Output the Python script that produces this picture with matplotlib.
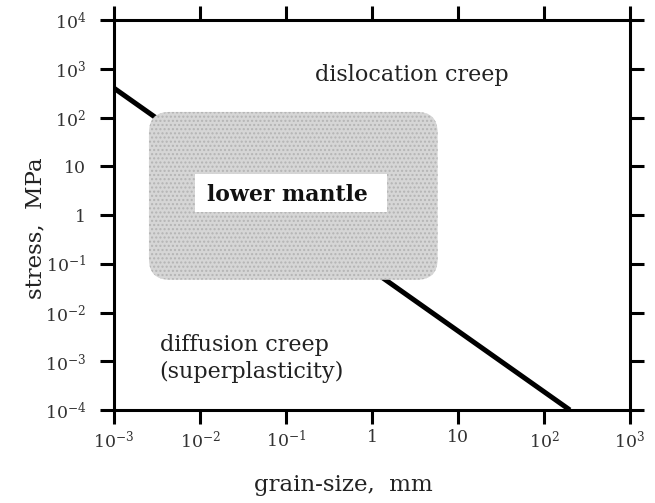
import numpy as np
import matplotlib
matplotlib.use('Agg')
import matplotlib.pyplot as plt
from matplotlib.patches import FancyBboxPatch

plt.rcParams['font.family'] = 'DejaVu Serif'
plt.rcParams['mathtext.fontset'] = 'dejavuserif'

# boundary between diffusion and dislocation creep
boundary_grain = [1e-3, 200]      # mm
boundary_stress = [400, 1e-4]     # MPa

# lower mantle field (grain-size range, stress range)
mantle_grain = [0.00255, 5.8]
mantle_stress = [0.047, 130]
# white label patch inside the field
patch_grain = [0.0087, 1.5]
patch_stress = [1.15, 6.8]

x_ticks = [1e-3, 1e-2, 1e-1, 1, 10, 1e2, 1e3]
x_labels = [r'$10^{-3}$', r'$10^{-2}$', r'$10^{-1}$', '1', '10', r'$10^{2}$', r'$10^{3}$']
y_ticks = [1e-4, 1e-3, 1e-2, 1e-1, 1, 10, 1e2, 1e3, 1e4]
y_labels = [r'$10^{-4}$', r'$10^{-3}$', r'$10^{-2}$', r'$10^{-1}$', '1', '10',
            r'$10^{2}$', r'$10^{3}$', r'$10^{4}$']

fig = plt.figure(figsize=(6.55, 5.03), dpi=100)
ax = fig.add_axes([114/655, 1 - 410/503, 516/655, 390/503])
ax.set_xscale('log')
ax.set_yscale('log')
ax.set_xlim(1e-3, 1e3)
ax.set_ylim(1e-4, 1e4)

ax.plot(boundary_grain, boundary_stress, color='black', lw=3.6,
        solid_capstyle='butt', zorder=1)

# gray field, drawn in axes fractions so the corners stay round on log axes
to_axes = ax.transData + ax.transAxes.inverted()
(x0, y0), (x1, y1) = to_axes.transform([(mantle_grain[0], mantle_stress[0]),
                                         (mantle_grain[1], mantle_stress[1])])
w_px, h_px = 516, 390
field = FancyBboxPatch((x0, y0), x1 - x0, y1 - y0, transform=ax.transAxes,
                       boxstyle='round,pad=0,rounding_size=0.04',
                       mutation_aspect=w_px / h_px,
                       facecolor='#d6d6d6', edgecolor='#b4b4b4', hatch='....',
                       lw=0, zorder=2)
ax.add_patch(field)

(px0, py0), (px1, py1) = to_axes.transform([(patch_grain[0], patch_stress[0]),
                                             (patch_grain[1], patch_stress[1])])
ax.add_patch(plt.Rectangle((px0, py0), px1 - px0, py1 - py0, transform=ax.transAxes,
                           facecolor='white', edgecolor='none', zorder=3))

ax.text(0.105, 2.6, 'lower mantle', fontsize=15.8, fontweight='bold',
        ha='center', va='center', color='#111111', zorder=4)
ax.text(2.9, 750, 'dislocation creep', fontsize=16, ha='center', va='center',
        color='#222222')
ax.text(0.0034, 1.15e-3, 'diffusion creep\n(superplasticity)', fontsize=16,
        ha='left', va='center', linespacing=1.27, color='#222222')

ax.set_xticks(x_ticks)
ax.set_xticklabels(x_labels)
ax.set_yticks(y_ticks)
ax.set_yticklabels(y_labels)
ax.minorticks_off()
ax.tick_params(which='major', direction='out', length=10, width=2.2,
               top=True, right=True, labelsize=12.5, labelcolor='#333333')
ax.tick_params(axis='y', pad=10)
ax.tick_params(axis='x', pad=4)
for s in ax.spines.values():
    s.set_linewidth(2.2)

fig.text(35/655, 1 - 228/503, 'stress,  MPa', rotation=90, fontsize=16.5,
         ha='center', va='center', color='#222222')
fig.text(343/655, 1 - 485/503, 'grain-size,  mm', fontsize=16.5,
         ha='center', va='center', color='#222222')

fig.savefig('out.png', dpi=100)
